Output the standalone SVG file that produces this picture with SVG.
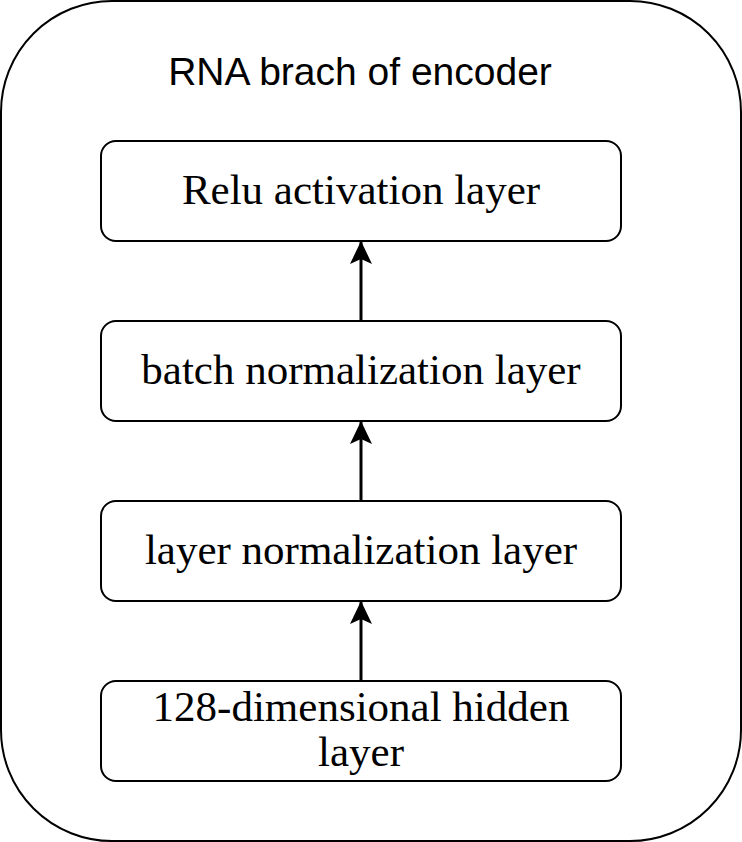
<svg xmlns="http://www.w3.org/2000/svg" width="742" height="842" viewBox="0 0 742 842">
<style>
.box{fill:#fff;stroke:#000;stroke-width:2}
.lbl{font-family:"Liberation Serif","Times New Roman",serif;font-size:43px;fill:#000;text-anchor:middle}
.title{font-family:"Liberation Sans",Arial,sans-serif;font-size:39px;fill:#000;text-anchor:middle}
.conn{stroke:#000;stroke-width:3;fill:none}
</style>
<defs>
<marker id="arr" viewBox="0 0 24 24" refX="22" refY="12" markerWidth="24" markerHeight="24" markerUnits="userSpaceOnUse" orient="auto">
<path d="M0,1 L23,12 L0,23 L5,12 Z" fill="#000"/>
</marker>
</defs>
<g id="container">
<rect x="1" y="1" width="740" height="840" rx="111" ry="111" class="box"/>
<text x="360" y="85" class="title">RNA brach of encoder</text>
</g>
<g id="relu">
<rect x="101" y="141" width="520" height="100" rx="15" ry="15" class="box"/>
<text x="361" y="204" class="lbl">Relu activation layer</text>
</g>
<g id="batchnorm">
<rect x="101" y="321" width="520" height="100" rx="15" ry="15" class="box"/>
<text x="361" y="384" class="lbl">batch normalization layer</text>
</g>
<g id="layernorm">
<rect x="101" y="501" width="520" height="100" rx="15" ry="15" class="box"/>
<text x="361" y="564" class="lbl">layer normalization layer</text>
</g>
<g id="hidden">
<rect x="101" y="681" width="520" height="100" rx="15" ry="15" class="box"/>
<text x="361" y="721" class="lbl">128-dimensional hidden</text>
<text x="361" y="766" class="lbl">layer</text>
</g>
<g id="connectors">
<line x1="361" y1="321" x2="361" y2="242" class="conn" marker-end="url(#arr)"/>
<line x1="361" y1="501" x2="361" y2="422" class="conn" marker-end="url(#arr)"/>
<line x1="361" y1="681" x2="361" y2="602" class="conn" marker-end="url(#arr)"/>
</g>
</svg>
